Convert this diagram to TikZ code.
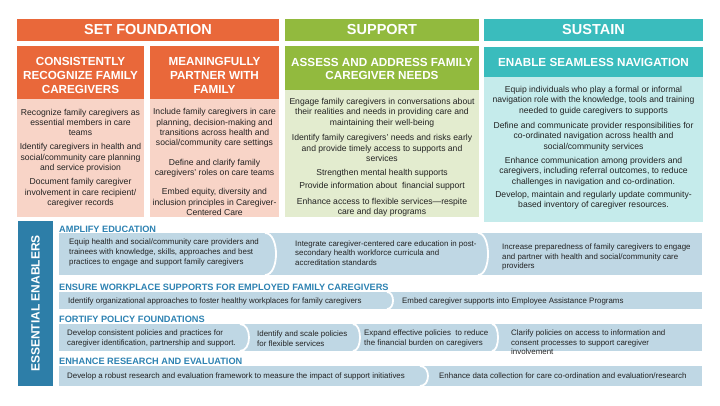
\documentclass[tikz,border=0pt]{standalone}
\usepackage{fontspec}
\setmainfont{Liberation Sans}
\definecolor{orangeH}{RGB}{233,104,58}
\definecolor{pinkB}{RGB}{248,212,199}
\definecolor{greenH}{RGB}{146,186,62}
\definecolor{greenB}{RGB}{227,236,207}
\definecolor{tealH}{RGB}{58,188,189}
\definecolor{tealB}{RGB}{197,235,235}
\definecolor{blueBar}{RGB}{45,126,168}
\definecolor{bandB}{RGB}{191,215,228}
\definecolor{blueTxt}{RGB}{45,130,178}
\definecolor{txt}{RGB}{35,35,35}
\tikzset{
  hdr/.style={inner sep=0pt, text=white, font=\fontsize{14.5}{16}\selectfont\bfseries},
  subhdr/.style={inner sep=0pt, text=white, align=center, font=\fontsize{11.7}{13.6}\selectfont\bfseries},
  body/.style={inner sep=0pt, text=txt, align=center, font=\fontsize{8.6}{10.4}\selectfont},
  bandtxt/.style={inner sep=0pt, text=txt, align=left, anchor=west, font=\fontsize{7.9}{9.6}\selectfont},
  enh/.style={inner sep=0pt, text=blueTxt, anchor=west, font=\fontsize{9.2}{11}\selectfont\bfseries},
  sep/.style={draw=white, line width=1.8pt}
}
\newcommand{\sepline}[4]{% xtop, xmid, ytop, ybot
  \pgfmathsetmacro{\cx}{#1+(#2-#1)/0.75}
  \draw[sep] (#1,#3) .. controls (\cx,#3) and (\cx,#4) .. (#1,#4);}
\begin{document}
\begin{tikzpicture}[x=1pt,y=-1pt]
\useasboundingbox[fill=white] (0,0) rectangle (720,405);

% top headers
\fill[orangeH] (17,18.5) rectangle (279,41);
\fill[greenH] (285,18.5) rectangle (479,41);
\fill[tealH] (484,18.5) rectangle (703,41);
\node[hdr] (hSF) at (148,30) {SET FOUNDATION};
\node[hdr] (hSU) at (382,30) {SUPPORT};
\node[hdr] (hST) at (593.5,30) {SUSTAIN};

% columns
\fill[orangeH] (17,46) rectangle (144,99);
\fill[pinkB] (17,99) rectangle (144,217);
\fill[orangeH] (150,46) rectangle (279,99);
\fill[pinkB] (150,99) rectangle (279,217);
\fill[greenH] (285,46) rectangle (479,90);
\fill[greenB] (285,90) rectangle (479,217);
\fill[tealH] (484,46.5) rectangle (703,77);
\fill[tealB] (484,77) rectangle (703,222);

\node[subhdr] (s1) at (80.5,75.5) {CONSISTENTLY\\RECOGNIZE FAMILY\\CAREGIVERS};
\node[subhdr] (s2) at (214.5,75.5) {MEANINGFULLY\\PARTNER WITH\\FAMILY};
\node[subhdr] (s3) at (382,69) {ASSESS AND ADDRESS FAMILY\\CAREGIVER NEEDS};
\node[subhdr] (s4) at (593.5,62) {ENABLE SEAMLESS NAVIGATION};

% column 1
\node[body] (c1a) at (80.5,122.5) {Recognize family caregivers as\\essential members in care\\teams};
\node[body] (c1b) at (80.5,158) {Identify caregivers in health and\\social/community care planning\\and service provision};
\node[body] (c1c) at (80.5,193) {Document family caregiver\\involvement in care recipient/\\caregiver records};
% column 2
\node[body] (c2a) at (214.5,128) {Include family caregivers in care\\planning, decision-making and\\transitions across health and\\social/community care settings};
\node[body] (c2b) at (214.5,168) {Define and clarify family\\caregivers' roles on care teams};
\node[body] (c2c) at (214.5,202) {Embed equity, diversity and\\inclusion principles in Caregiver-\\Centered Care};
% column 3
\node[body] (c3a) at (382,112.5) {Engage family caregivers in conversations about\\their realities and needs in providing care and\\maintaining their well-being};
\node[body] (c3b) at (382,148) {Identify family caregivers' needs and risks early\\and provide timely access to supports and\\services};
\node[body] (c3c) at (382,173) {Strengthen mental health supports};
\node[body] (c3d) at (382,186) {Provide information about\ \ financial support};
\node[body] (c3e) at (382,207) {Enhance access to flexible services—respite\\care and day programs};
% column 4
\node[body] (c4a) at (593.5,100.5) {Equip individuals who play a formal or informal\\navigation role with the knowledge, tools and training\\needed to guide caregivers to supports};
\node[body] (c4b) at (593.5,136.5) {Define and communicate provider responsibilities for\\co-ordinated navigation across health and\\social/community services};
\node[body] (c4c) at (593.5,171.5) {Enhance communication among providers and\\caregivers, including referral outcomes, to reduce\\challenges in navigation and co-ordination.};
\node[body] (c4d) at (593.5,200) {Develop, maintain and regularly update community-\\based inventory of caregiver resources.};

% essential enablers bar
\fill[blueBar] (18,221) rectangle (53,386);
\node[inner sep=0pt, text=white, rotate=90, font=\fontsize{12}{14}\selectfont\bfseries] (ee) at (35.5,303.5) {ESSENTIAL ENABLERS};

% bands
\fill[bandB] (59,233) rectangle (702,275);
\fill[bandB] (59,292) rectangle (702,309);
\fill[bandB] (59,324) rectangle (702,351);
\fill[bandB] (59,366) rectangle (702,386);
\sepline{265}{276}{233}{275}
\sepline{478}{488}{233}{275}
\sepline{387}{393}{292}{309}
\sepline{240}{249}{324}{351}
\sepline{353}{360}{324}{351}
\sepline{492}{498}{324}{351}
\sepline{420}{428}{366}{386}

\node[enh] (e1) at (59,229) {AMPLIFY EDUCATION};
\node[enh] (e2) at (59,287) {ENSURE WORKPLACE SUPPORTS FOR EMPLOYED FAMILY CAREGIVERS};
\node[enh] (e3) at (59,319) {FORTIFY POLICY FOUNDATIONS};
\node[enh] (e4) at (59,361) {ENHANCE RESEARCH AND EVALUATION};

\node[bandtxt] (b1a) at (69,252.5) {Equip health and social/community care providers and\\trainees with knowledge, skills, approaches and best\\practices to engage and support family caregivers};
\node[bandtxt] (b1b) at (295,253) {Integrate caregiver-centered care education in post-\\secondary health workforce curricula and\\accreditation standards};
\node[bandtxt] (b1c) at (502,257) {Increase preparedness of family caregivers to engage\\and partner with health and social/community care\\providers};
\node[bandtxt] (b2a) at (68,301) {Identify organizational approaches to foster healthy workplaces for family caregivers};
\node[bandtxt] (b2b) at (402,301) {Embed caregiver supports into Employee Assistance Programs};
\node[bandtxt] (b3a) at (67,338.5) {Develop consistent policies and practices for\\caregiver identification, partnership and support.};
\node[bandtxt] (b3b) at (257,338.5) {Identify and scale policies\\for flexible services};
\node[bandtxt] (b3c) at (364,338.5) {Expand effective policies\ \ to reduce\\the financial burden on caregivers};
\node[bandtxt] (b3d) at (511,342.5) {Clarify policies on access to information and\\consent processes to support caregiver\\involvement};
\node[bandtxt] (b4a) at (67,376) {Develop a robust research and evaluation framework to measure the impact of support initiatives};
\node[bandtxt] (b4b) at (439,376) {Enhance data collection for care co-ordination and evaluation/research};
\end{tikzpicture}
\end{document}
